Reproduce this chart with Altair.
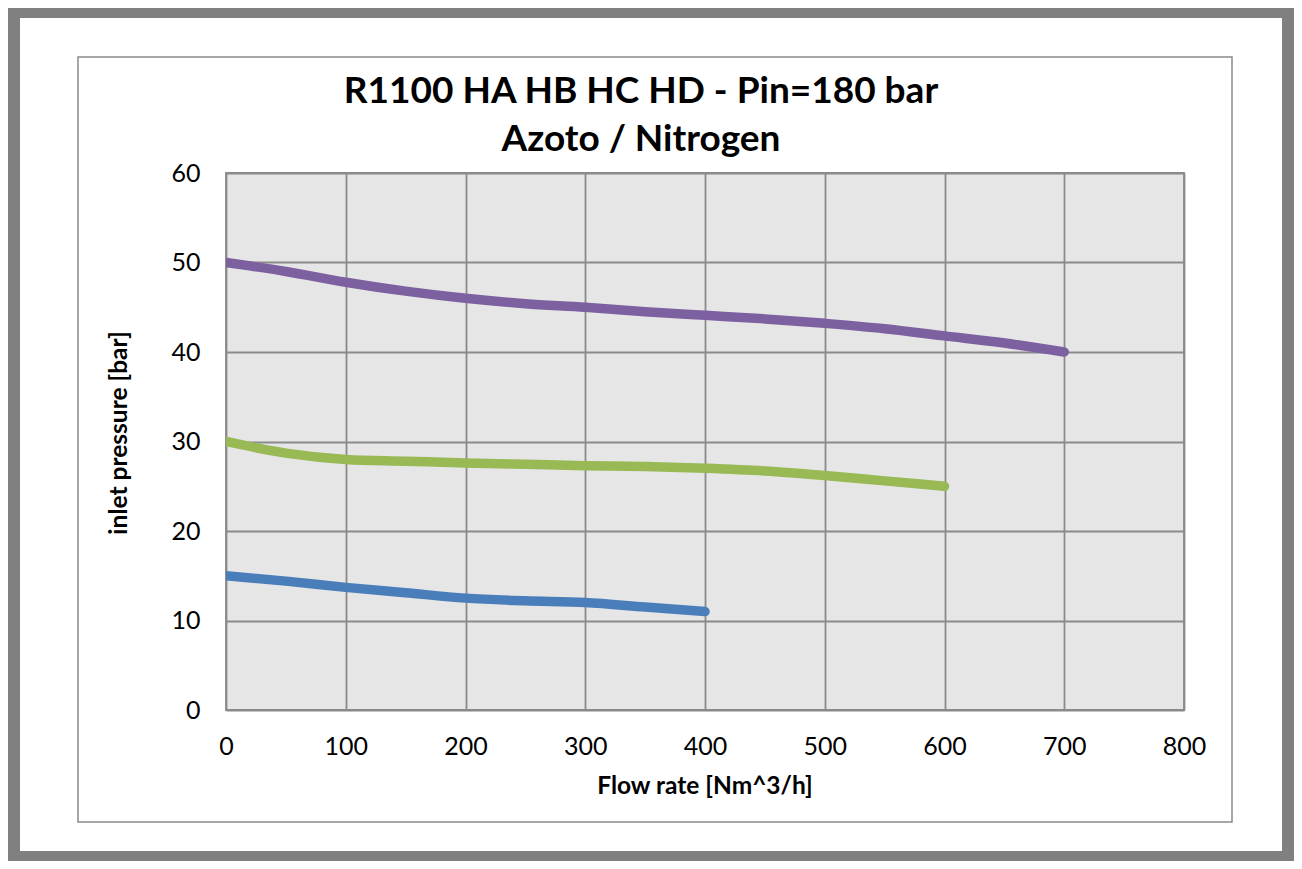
import altair as alt
import pandas as pd

# ---- data ----
flow_blue = [0, 50, 100, 150, 200, 250, 300, 350, 400]
p_blue = [15.0, 14.4, 13.7, 13.1, 12.5, 12.2, 12.0, 11.5, 11.0]

flow_green = [0, 50, 100, 150, 200, 250, 300, 350, 400, 450, 500, 550, 600]
p_green = [30.0, 28.7, 28.0, 27.8, 27.6, 27.45, 27.3, 27.2, 27.0, 26.7, 26.2, 25.6, 25.0]

flow_purple = [0, 50, 100, 150, 200, 250, 300, 350, 400, 450, 500, 550, 600, 650, 700]
p_purple = [50.0, 49.0, 47.8, 46.8, 46.0, 45.4, 45.0, 44.5, 44.1, 43.7, 43.2, 42.6, 41.8, 41.0, 40.0]

series_names = ["HA", "HB", "HC"]
series_colors = ["#4A7EBB", "#98B954", "#7D60A0"]

title_lines = ["R1100 HA HB HC HD - Pin=180 bar", "Azoto / Nitrogen"]
x_title = "Flow rate [Nm^3/h]"
y_title = "inlet pressure [bar]"
x_ticks = [0, 100, 200, 300, 400, 500, 600, 700, 800]
y_ticks = [0, 10, 20, 30, 40, 50, 60]

rows = []
for name, xs, ys in zip(series_names, [flow_blue, flow_green, flow_purple],
                        [p_blue, p_green, p_purple]):
    for i, (a, b) in enumerate(zip(xs, ys)):
        rows.append({"series": name, "flow": a, "pressure": b, "order": i})
df = pd.DataFrame(rows)

W, H = 958, 537
FONT = "Lato"
GRID = "#8a8a8a"

lines = alt.Chart(df).mark_line(
    strokeWidth=9.5, strokeCap="round", strokeJoin="round", interpolate="monotone",
    clip=True
).encode(
    x=alt.X("flow:Q",
            scale=alt.Scale(domain=[0, 800], nice=False, zero=True),
            axis=alt.Axis(values=x_ticks, title=None, grid=True,
                          gridColor=GRID, gridWidth=1.8, domain=False,
                          ticks=False, tickSize=0, labelPadding=24,
                          labelFlush=False, labelOverlap=False,
                          labelFont=FONT, labelFontSize=25, labelColor="#000000")),
    y=alt.Y("pressure:Q",
            scale=alt.Scale(domain=[0, 60], nice=False, zero=True),
            axis=alt.Axis(values=y_ticks, title=None, grid=True,
                          gridColor=GRID, gridWidth=1.8, domain=False,
                          ticks=False, tickSize=0, labelPadding=26,
                          labelFlush=False, labelOverlap=False,
                          labelFont=FONT, labelFontSize=25, labelColor="#000000")),
    color=alt.Color("series:N",
                    scale=alt.Scale(domain=series_names, range=series_colors),
                    legend=None),
    order="order:Q",
)

one = alt.Data(values=[{"k": 1}])

outer_frame = alt.Chart(one).mark_rect(
    filled=False, stroke="#808080", strokeWidth=12, clip=False
).encode(x=alt.value(-212), x2=alt.value(1062), y=alt.value(-161), y2=alt.value(684))

inner_box = alt.Chart(one).mark_rect(
    filled=False, stroke="#8a8a8a", strokeWidth=1.5, clip=False
).encode(x=alt.value(-148), x2=alt.value(1006), y=alt.value(-116), y2=alt.value(649))


def label(txt, x, y, size, angle=0):
    return alt.Chart(one).mark_text(
        font=FONT, fontSize=size, fontWeight="bold", color="#000000",
        align="center", baseline="alphabetic", angle=angle, clip=False
    ).encode(x=alt.value(x), y=alt.value(y), text=alt.value(txt))


t1 = label(title_lines[0], 415, 103 - 173, 37)
t2 = label(title_lines[1], 415, 151 - 173, 37)
xt = label(x_title, W / 2, 794 - 173, 24.5)
yt = label(y_title, -99, 433 - 173, 24.5, angle=270)

chart = alt.layer(outer_frame, inner_box, t1, t2, xt, yt, lines).properties(
    width=W, height=H,
    autosize=alt.AutoSizeParams(type="none"),
    padding={"left": 218, "top": 165, "right": 110, "bottom": 151},
    background="#ffffff",
).configure_view(
    fill="#e6e6e6", stroke=GRID, strokeWidth=1.8
)

chart.save("out.html", embed_options={"renderer": "svg", "actions": False})
